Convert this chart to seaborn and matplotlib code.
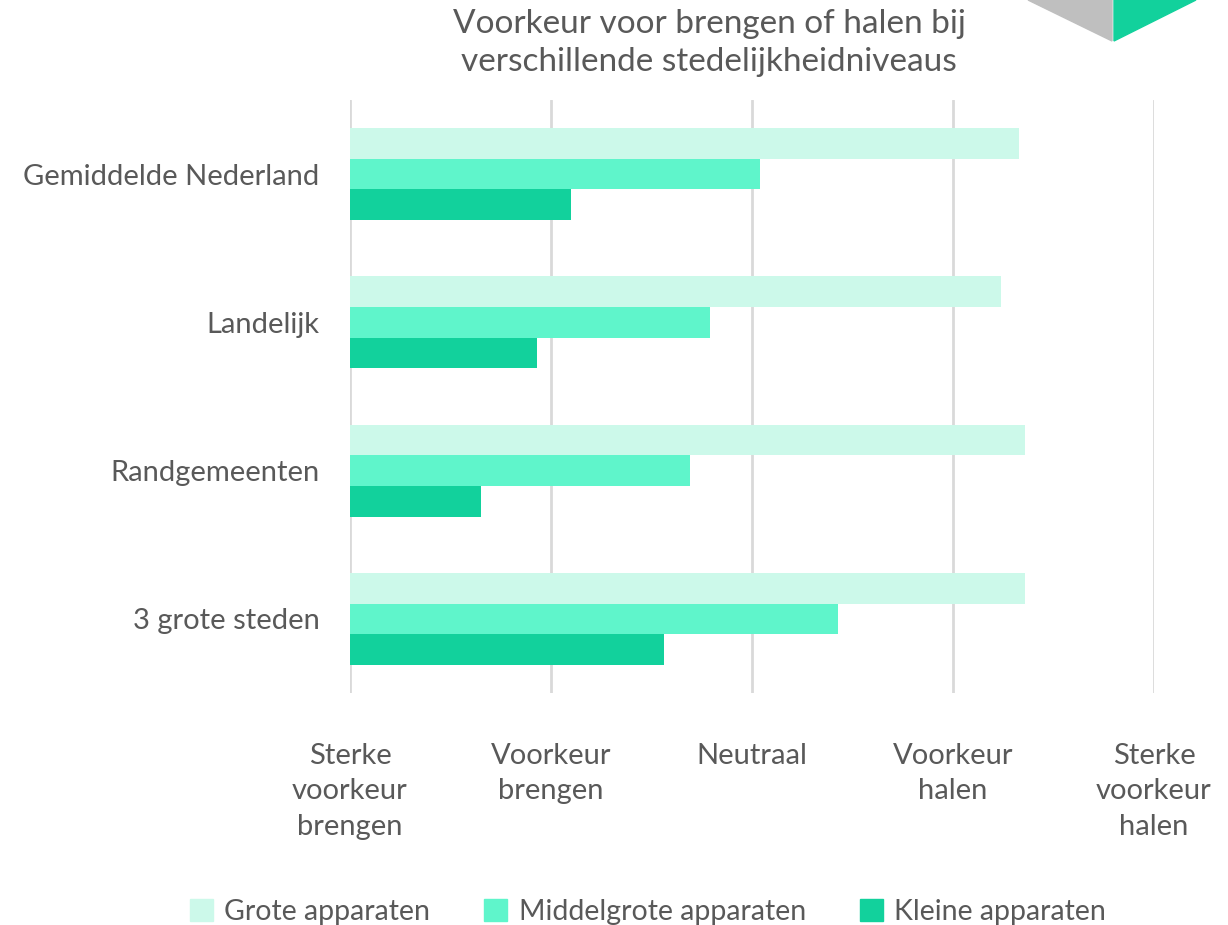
import pandas as pd
import matplotlib.pyplot as plt
import seaborn as sns
from matplotlib.patches import Polygon

# -------- data --------
categories = ['Gemiddelde Nederland', 'Landelijk', 'Randgemeenten', '3 grote steden']
series = ['Grote apparaten', 'Middelgrote apparaten', 'Kleine apparaten']
grote = [4.33, 4.24, 4.36, 4.36]
middelgrote = [3.04, 2.79, 2.69, 3.43]
kleine = [2.10, 1.93, 1.65, 2.56]
x_ticks = [1, 2, 3, 4, 5]
x_labels = ['Sterke\nvoorkeur\nbrengen', 'Voorkeur\nbrengen', 'Neutraal',
            'Voorkeur\nhalen', 'Sterke\nvoorkeur\nhalen']
colors = ['#CCF9EA', '#5FF5CB', '#12D19C']

df = pd.DataFrame({
    'categorie': categories * 3,
    'reeks': [s for s in series for _ in categories],
    'waarde': grote + middelgrote + kleine,
})

sns.set_style('white')
plt.rcParams['font.family'] = ['Lato', 'DejaVu Sans']
txt = '#595959'

fig = plt.figure(figsize=(12.28, 9.25), dpi=100)
ax = fig.add_axes([350 / 1228, 1 - 693 / 925, 804 / 1228, 593 / 925])

# bars start at 1 (sterke voorkeur brengen)
df['lengte'] = df['waarde'] - 1
sns.barplot(data=df, y='categorie', x='lengte', hue='reeks', orient='h',
            palette=colors, width=0.62, gap=0, left=1, saturation=1,
            linewidth=0, legend=False, ax=ax, zorder=3)

ax.set_xlim(1, 5)
ax.set_ylim(3.5, -0.5)
ax.set_xticks(x_ticks)
ax.set_xticklabels(x_labels, fontsize=21, color=txt, linespacing=1.45,
                   va='top')
ax.tick_params(axis='x', length=0, pad=36)
ax.tick_params(axis='y', length=0, pad=22, labelsize=21, labelcolor=txt)
ax.set_xlabel('')
ax.set_ylabel('')
for s in ax.spines.values():
    s.set_visible(False)
ax.xaxis.grid(True, color='#D9D9D9', linewidth=2, zorder=0)
ax.yaxis.grid(False)

fig.text(709 / 1228, 1 - 43 / 925,
         'Voorkeur voor brengen of halen bij\nverschillende stedelijkheidniveaus',
         ha='center', va='center', fontsize=24, color=txt, linespacing=1.35)

handles = [plt.Rectangle((0, 0), 1, 1, color=c) for c in colors]
fig.legend(handles, series, loc='center', bbox_to_anchor=(648 / 1228, 1 - 912 / 925),
           ncol=3, frameon=False, fontsize=20.5, labelcolor=txt,
           handlelength=0.8, handleheight=0.8, handletextpad=0.4,
           columnspacing=1.9)

# corner decoration
fig.patches.append(Polygon([[1028 / 1228, 1], [1112 / 1228, 1 - 41 / 925], [1112 / 1228, 1]],
                           closed=True, transform=fig.transFigure, color='#BFBFBF'))
fig.patches.append(Polygon([[1114 / 1228, 1], [1114 / 1228, 1 - 41 / 925], [1196 / 1228, 1]],
                           closed=True, transform=fig.transFigure, color='#12D19C'))

fig.savefig('out.png', dpi=100)
